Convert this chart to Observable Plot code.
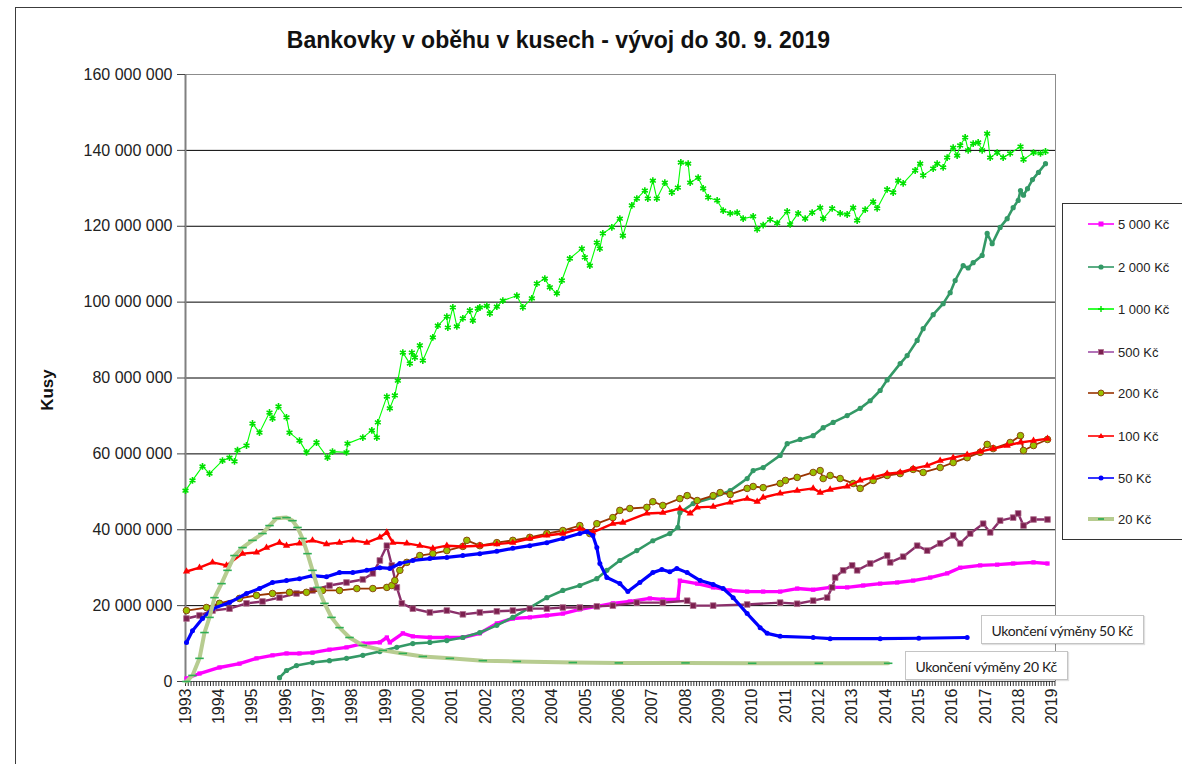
<!DOCTYPE html>
<html><head><meta charset="utf-8">
<script src="https://cdn.jsdelivr.net/npm/d3@7"></script>
<script src="https://cdn.jsdelivr.net/npm/@observablehq/plot@0.6"></script>
<style>
body{margin:0;background:#fff;width:1182px;height:764px;overflow:hidden;position:relative;font-family:"Liberation Sans",Arial,sans-serif;}
#frame{position:absolute;left:15px;top:7px;width:1300px;height:900px;border:1px solid #3c3c3c;box-sizing:border-box;}
#chart{position:absolute;left:0;top:0;}
#title{position:absolute;left:0;width:1117px;top:29px;text-align:center;font-weight:bold;font-size:23px;line-height:23px;color:#111;white-space:nowrap;}
#ylabel{position:absolute;left:-2px;top:378px;width:100px;text-align:center;font-weight:bold;font-size:17px;line-height:24px;transform:rotate(-90deg);color:#111;}
#legend{position:absolute;left:1062px;top:203px;width:160px;height:337px;border:1px solid #333;box-sizing:border-box;background:#fff;}
.entry{position:absolute;left:25px;height:16px;display:flex;align-items:center;font-size:13px;color:#222;white-space:nowrap;}
.entry svg{margin-right:4px;}
.note{position:absolute;width:163px;height:29px;line-height:29px;box-sizing:border-box;border:1px solid #c4c4c4;box-shadow:1px 1px 1px rgba(0,0,0,0.12);background:#fff;text-align:center;font-family:Lato,"Open Sans",sans-serif;font-size:14px;letter-spacing:-0.3px;color:#222;white-space:nowrap;}
</style></head>
<body>
<div id="frame"></div>
<div id="chart"></div>
<div id="title">Bankovky v oběhu v kusech - vývoj do 30. 9. 2019</div>
<div id="ylabel">Kusy</div>
<div id="legend"></div>
<div class="note" id="note50">Ukončení výměny 50 Kč</div>
<div class="note" id="note20">Ukončení výměny 20 Kč</div>
<script>
// ---- data: [decimal year, millions of pieces] ----
const s5000 = [[1993.03,0.8],[1993.42,2.1],[1994.02,3.7],[1994.62,4.7],[1995.13,6.1],[1995.61,6.9],[1996.03,7.4],[1996.42,7.4],[1996.81,7.6],[1997.32,8.4],[1997.83,9.0],[1998.32,10.0],[1998.83,10.3],[1999.04,11.6],[1999.13,10.3],[1999.52,12.7],[1999.82,11.9],[2000.33,11.6],[2000.84,11.6],[2001.32,11.6],[2001.83,12.7],[2002.34,15.3],[2002.82,16.6],[2003.33,16.9],[2003.84,17.4],[2004.32,17.9],[2004.83,19.0],[2005.34,19.8],[2005.82,20.6],[2006.33,21.1],[2006.93,21.9],[2007.32,21.6],[2007.77,21.6],[2007.83,26.6],[2008.35,25.8],[2008.83,24.8],[2009.34,24.0],[2009.85,23.7],[2010.33,23.7],[2010.84,23.7],[2011.35,24.5],[2011.83,24.2],[2012.34,24.8],[2012.85,24.8],[2013.33,25.3],[2013.84,25.8],[2014.35,26.1],[2014.83,26.6],[2015.34,27.4],[2015.85,28.5],[2016.24,30.0],[2016.84,30.6],[2017.35,30.8],[2017.83,31.1],[2018.44,31.4],[2018.86,31.1]];
const s2000 = [[1995.82,1.0],[1996.03,2.9],[1996.33,4.2],[1996.81,5.0],[1997.32,5.5],[1997.83,6.1],[1998.32,6.9],[1998.83,7.9],[1999.34,9.0],[1999.82,10.0],[2000.33,10.3],[2000.84,10.8],[2001.32,11.6],[2001.83,12.9],[2002.34,14.8],[2002.82,16.9],[2003.33,19.5],[2003.84,22.1],[2004.32,24.0],[2004.83,25.3],[2005.34,27.1],[2005.64,29.3],[2006.03,31.9],[2006.54,34.5],[2007.02,37.1],[2007.53,39.0],[2007.77,40.6],[2007.83,44.5],[2008.23,46.9],[2008.83,48.5],[2009.34,50.3],[2009.85,53.5],[2010.03,55.6],[2010.33,56.4],[2010.84,59.6],[2011.05,62.7],[2011.44,63.8],[2011.83,64.8],[2012.13,66.9],[2012.43,68.3],[2012.85,70.1],[2013.24,72.0],[2013.54,74.0],[2013.84,76.7],[2014.05,79.5],[2014.44,83.8],[2014.65,85.9],[2014.95,89.9],[2015.13,93.0],[2015.43,96.7],[2015.73,99.6],[2015.94,102.5],[2016.09,105.7],[2016.33,109.6],[2016.48,109.0],[2016.63,110.4],[2016.90,112.3],[2017.05,118.1],[2017.20,115.4],[2017.44,119.7],[2017.65,122.0],[2017.83,124.9],[2017.98,126.8],[2018.05,129.4],[2018.14,128.2],[2018.26,129.9],[2018.41,132.3],[2018.59,134.2],[2018.80,136.5]];
const s1000 = [[1993.00,50.3],[1993.21,53.0],[1993.51,56.7],[1993.72,54.8],[1994.11,58.2],[1994.32,59.0],[1994.47,58.0],[1994.56,61.0],[1994.83,62.2],[1995.01,68.0],[1995.22,65.6],[1995.52,70.9],[1995.61,69.3],[1995.79,72.5],[1996.03,69.6],[1996.12,65.6],[1996.42,63.5],[1996.63,60.4],[1996.93,63.0],[1997.26,59.0],[1997.41,60.6],[1997.83,60.4],[1997.86,62.7],[1998.32,64.3],[1998.59,66.2],[1998.74,64.3],[1998.77,68.3],[1999.04,75.1],[1999.13,72.0],[1999.28,75.4],[1999.37,79.3],[1999.52,86.7],[1999.73,83.8],[1999.79,86.7],[1999.88,85.4],[2000.03,88.6],[2000.12,84.6],[2000.42,90.7],[2000.57,93.8],[2000.84,96.2],[2000.87,93.3],[2001.02,98.6],[2001.14,93.6],[2001.32,95.7],[2001.53,97.8],[2001.62,95.1],[2001.77,98.3],[2001.83,98.6],[2002.04,99.0],[2002.13,97.0],[2002.34,98.8],[2002.52,100.4],[2002.94,101.7],[2003.12,98.6],[2003.39,101.0],[2003.54,104.9],[2003.78,106.2],[2003.93,103.9],[2004.14,102.3],[2004.29,105.7],[2004.53,111.5],[2004.89,114.1],[2004.98,111.8],[2005.13,109.6],[2005.34,115.7],[2005.43,114.1],[2005.52,118.1],[2005.79,119.7],[2006.03,122.0],[2006.12,117.5],[2006.39,125.5],[2006.54,127.3],[2006.78,129.4],[2006.87,127.3],[2007.02,132.0],[2007.14,127.3],[2007.38,131.5],[2007.59,128.9],[2007.77,130.2],[2007.86,136.8],[2008.08,136.5],[2008.14,131.5],[2008.38,132.8],[2008.53,130.0],[2008.68,127.6],[2008.95,126.8],[2009.13,124.1],[2009.34,123.4],[2009.55,123.6],[2009.73,122.0],[2010.03,122.6],[2010.15,119.2],[2010.33,120.3],[2010.54,121.8],[2010.75,120.8],[2011.05,123.9],[2011.14,120.5],[2011.38,123.4],[2011.59,122.0],[2011.80,123.6],[2012.04,124.9],[2012.13,122.0],[2012.40,124.7],[2012.64,123.4],[2012.85,123.1],[2013.03,124.9],[2013.15,121.5],[2013.39,124.4],[2013.63,126.5],[2013.75,124.7],[2014.05,129.7],[2014.23,128.9],[2014.38,132.0],[2014.53,131.3],[2014.89,134.7],[2015.04,136.5],[2015.13,133.4],[2015.43,135.2],[2015.55,136.5],[2015.73,135.5],[2015.85,138.1],[2016.03,140.7],[2016.15,138.6],[2016.24,141.3],[2016.39,143.4],[2016.48,140.0],[2016.63,141.8],[2016.78,142.1],[2016.90,140.0],[2017.05,144.4],[2017.14,138.1],[2017.35,139.4],[2017.53,138.1],[2017.74,139.2],[2018.05,141.0],[2018.14,137.6],[2018.44,139.4],[2018.65,139.2],[2018.80,139.7]];
const s500 = [[1993.03,16.6],[1993.42,17.4],[1993.81,18.7],[1994.32,19.2],[1994.83,20.6],[1995.31,21.1],[1995.82,22.1],[1996.33,23.2],[1996.81,24.0],[1997.32,25.3],[1997.83,26.1],[1998.32,26.9],[1998.62,28.5],[1998.83,31.9],[1999.04,35.8],[1999.19,30.6],[1999.34,24.8],[1999.49,20.6],[1999.82,19.2],[2000.33,18.2],[2000.84,18.7],[2001.32,17.7],[2001.83,18.2],[2002.34,18.5],[2002.82,18.7],[2003.33,19.2],[2003.84,19.2],[2004.32,19.5],[2004.83,19.5],[2005.34,19.8],[2005.82,20.0],[2006.54,20.8],[2007.32,20.8],[2008.05,21.3],[2008.23,20.0],[2008.83,20.0],[2009.85,20.3],[2010.84,20.8],[2011.35,20.5],[2011.83,21.3],[2012.25,22.1],[2012.40,24.8],[2012.49,27.4],[2012.73,29.3],[2013.00,30.6],[2013.15,29.3],[2013.54,31.1],[2014.05,33.2],[2014.14,31.4],[2014.53,32.9],[2014.95,35.8],[2015.25,34.5],[2015.64,36.4],[2016.03,38.5],[2016.24,36.4],[2016.54,39.0],[2016.93,41.6],[2017.14,39.3],[2017.44,42.4],[2017.83,43.2],[2017.98,44.3],[2018.14,41.1],[2018.44,42.7],[2018.86,42.7]];
const s200 = [[1993.03,18.7],[1993.63,19.5],[1994.02,20.6],[1994.62,21.9],[1995.13,22.7],[1995.61,23.2],[1996.12,23.5],[1996.63,23.5],[1997.11,24.0],[1997.62,24.0],[1998.14,24.5],[1998.62,24.5],[1999.04,24.8],[1999.19,25.3],[1999.28,26.6],[1999.43,29.3],[1999.64,31.4],[2000.03,33.2],[2000.42,33.7],[2000.84,34.5],[2001.32,35.6],[2001.44,37.2],[2001.83,35.8],[2002.34,36.6],[2002.82,37.2],[2003.33,38.0],[2003.84,39.0],[2004.32,39.8],[2004.83,41.1],[2005.13,39.0],[2005.34,41.6],[2005.82,43.2],[2006.03,45.1],[2006.33,45.6],[2006.84,45.9],[2007.02,47.4],[2007.32,46.4],[2007.83,48.2],[2008.05,49.0],[2008.35,47.7],[2008.83,49.0],[2009.04,49.8],[2009.34,49.3],[2009.85,50.9],[2010.03,51.4],[2010.33,51.1],[2010.84,52.2],[2011.00,53.0],[2011.35,53.8],[2011.83,55.1],[2012.04,55.6],[2012.13,53.5],[2012.34,54.3],[2012.64,53.5],[2013.03,52.2],[2013.24,50.9],[2013.63,53.0],[2014.05,54.3],[2014.44,54.8],[2014.83,55.9],[2015.13,55.1],[2015.64,56.4],[2016.03,57.7],[2016.45,59.0],[2016.84,60.4],[2017.05,62.5],[2017.23,61.4],[2017.74,63.0],[2018.05,64.8],[2018.14,60.9],[2018.44,62.2],[2018.86,63.8]];
const s100 = [[1993.03,29.0],[1993.42,30.0],[1993.81,31.4],[1994.23,30.6],[1994.71,33.7],[1995.13,34.0],[1995.43,35.3],[1995.82,36.6],[1996.03,35.8],[1996.42,36.4],[1996.81,37.2],[1997.23,36.2],[1997.62,36.6],[1998.02,37.2],[1998.44,36.6],[1998.83,38.0],[1999.04,39.3],[1999.22,36.6],[1999.64,36.4],[2000.03,35.8],[2000.42,35.1],[2000.84,35.8],[2001.32,35.6],[2001.83,35.8],[2002.34,36.2],[2002.82,36.6],[2003.33,37.7],[2003.84,38.5],[2004.32,39.0],[2004.83,40.3],[2005.22,39.3],[2005.82,41.6],[2006.12,41.9],[2006.84,44.3],[2007.32,44.5],[2007.83,45.6],[2008.14,44.3],[2008.35,45.9],[2008.83,46.1],[2009.34,47.2],[2009.85,48.2],[2010.15,47.4],[2010.33,48.5],[2010.84,49.6],[2011.35,50.3],[2011.83,50.9],[2012.04,49.8],[2012.34,50.6],[2012.85,51.4],[2013.24,53.0],[2013.63,53.8],[2014.05,54.8],[2014.44,55.1],[2014.83,56.1],[2015.25,56.9],[2015.64,58.2],[2016.03,59.0],[2016.45,59.8],[2016.84,60.6],[2017.23,61.4],[2017.65,62.2],[2018.05,63.0],[2018.44,63.5],[2018.86,64.0]];
const s50 = [[1993.03,10.3],[1993.21,13.4],[1993.51,16.6],[1993.81,19.2],[1994.32,20.8],[1994.83,23.2],[1995.22,24.5],[1995.61,26.1],[1996.03,26.6],[1996.42,27.1],[1996.81,27.9],[1997.23,27.6],[1997.62,28.7],[1998.02,28.7],[1998.44,29.3],[1998.83,30.0],[1999.13,29.8],[1999.43,31.1],[1999.82,31.9],[2000.33,32.4],[2000.84,32.7],[2001.32,33.2],[2001.83,33.7],[2002.34,34.3],[2002.82,35.1],[2003.33,35.8],[2003.84,36.6],[2004.32,37.7],[2004.83,39.0],[2005.04,39.5],[2005.22,38.5],[2005.34,35.3],[2005.43,31.1],[2005.64,27.4],[2006.03,25.8],[2006.27,23.7],[2006.63,26.1],[2007.02,28.7],[2007.29,29.5],[2007.53,28.9],[2007.74,29.8],[2008.05,28.7],[2008.44,26.6],[2008.83,25.6],[2009.13,24.5],[2009.43,22.1],[2009.85,17.9],[2010.24,14.2],[2010.45,12.7],[2010.84,11.9],[2011.83,11.6],[2012.34,11.3],[2013.84,11.3],[2015.00,11.4],[2016.45,11.6]];
const s20 = [[1993.03,0.0],[1993.21,1.6],[1993.42,6.1],[1993.57,12.9],[1993.72,16.9],[1993.87,22.1],[1994.08,25.8],[1994.26,29.3],[1994.47,33.2],[1994.71,35.3],[1995.01,37.2],[1995.31,39.0],[1995.52,41.1],[1995.73,43.0],[1996.03,43.2],[1996.21,42.4],[1996.36,40.6],[1996.51,37.7],[1996.66,33.7],[1996.81,29.3],[1996.96,24.8],[1997.17,20.6],[1997.38,16.9],[1997.62,14.2],[1997.92,11.6],[1998.32,9.5],[1998.92,8.2],[1999.52,7.4],[2000.12,6.6],[2000.93,6.1],[2001.92,5.5],[2002.94,5.3],[2004.62,5.0],[2006.0,4.9],[2008.0,4.9],[2010.0,4.8],[2012.0,4.8],[2014.08,4.8]];

const seriesNames = ["5 000 Kč","2 000 Kč","1 000 Kč","500 Kč","200 Kč","100 Kč","50 Kč","20 Kč"];
const seriesData = [s5000, s2000, s1000, s500, s200, s100, s50, s20];
const yearTicks = d3.range(1993, 2020);
const yTicks = d3.range(0, 160e6 + 1, 20e6);

// styles per series (same order as names)
const dashSymbol = { draw(ctx, size) { const w = Math.sqrt(size) * 0.75; ctx.moveTo(-w, 0); ctx.lineTo(w, 0); } };
const styles = [
  {line:"#FF00FF", w:3.4, sym:"square", r:2.4, fill:"#FF00FF", stroke:"none", lw:1.6},
  {line:"#339966", w:2.6, sym:"circle", r:2.6, fill:"#339966", stroke:"none", lw:1.6},
  {line:"#00FF00", w:1.1, sym:"asterisk", r:3.2, fill:"none", stroke:"#00E000", sw:1.6, lw:1.6},
  {line:"#8A2F6A", w:2.4, sym:"square", r:3.2, fill:"#7B1F4F", stroke:"#B0708F", sw:0.8, lw:1.6, legendLine:"#A050A8"},
  {line:"#993300", w:1.8, sym:"circle", r:3.3, fill:"#99C000", stroke:"#8A4A10", sw:1, lw:1.6},
  {line:"#FF0000", w:2.4, sym:"triangle", r:2.7, fill:"#FF0000", stroke:"none", lw:1.6},
  {line:"#0000FF", w:3.2, sym:"circle", r:2.5, fill:"#0000FF", stroke:"none", lw:1.6},
  {line:"#B7CC90", w:4, sym:dashSymbol, r:3.2, fill:"none", stroke:"#2FAE55", sw:1.6, lw:4}
];

const fmt = d => d3.format(",")(d).replace(/,/g, " ");
const marks = [
  Plot.ruleY(yTicks.filter(d => d > 0 && d < 160e6), {stroke: "#000", strokeWidth: 1}),
  Plot.ruleY([160e6], {stroke: "#8c8c8c"}),
  Plot.ruleX([2019.1], {stroke: "#8c8c8c"}),
  Plot.ruleX([1993], {stroke: "#808080", strokeWidth: 2}),
  Plot.ruleY([0], {stroke: "#555"}),
  Plot.axisY({ticks: yTicks, tickSize: 8, tickPadding: 5, tickFormat: fmt, fontSize: 16, label: null, stroke: "#444"}),
  Plot.axisX({ticks: d3.range(0, 26 * 12 + 2).map(i => 1993 + i / 12), tickSize: 5, tickFormat: () => "", label: null, stroke: "#333"}),
  Plot.axisX({ticks: yearTicks, tickSize: 0, tickPadding: 7, tickRotate: -90, tickFormat: d3.format("d"), fontSize: 16, label: null})
];
seriesData.forEach((arr, i) => {
  const st = styles[i];
  const rows = arr.map(([t, v]) => ({t, v: v * 1e6}));
  marks.push(Plot.line(rows, {x: "t", y: "v", stroke: st.line, strokeWidth: st.w, curve: "linear", strokeLinejoin: "round"}));
  marks.push(Plot.dot(rows, {x: "t", y: "v", symbol: st.sym, r: st.r, fill: st.fill, stroke: st.stroke, strokeWidth: st.sw || 1}));
});

const plot = Plot.plot({
  width: 1182, height: 764,
  marginLeft: 185, marginRight: 127, marginTop: 74, marginBottom: 83,
  x: {domain: [1993, 2019.1], axis: null},
  y: {domain: [0, 160e6], axis: null},
  style: {fontFamily: '"Liberation Sans", Arial, sans-serif', fontSize: "16px", color: "#222", background: "transparent", overflow: "visible"},
  marks
});
document.getElementById("chart").appendChild(plot);

// legend
const legend = document.getElementById("legend");
const legendCenters = [20, 63, 105, 148, 189, 232, 274, 315];
seriesNames.forEach((name, i) => {
  const st = styles[i];
  const e = document.createElement("div");
  e.className = "entry";
  e.style.top = (legendCenters[i] - 8) + "px";
  let marker = "";
  if (st.sym === "square") marker = `<rect x="10.5" y="5.5" width="5" height="5" fill="${st.fill}" stroke="${st.stroke}" stroke-width="0.8"/>`;
  else if (st.sym === "circle") marker = `<circle cx="13" cy="8" r="${Math.min(st.r,3)}" fill="${st.fill}" stroke="${st.stroke}"/>`;
  else if (st.sym === "triangle") marker = `<path d="M13,5 L16,10 L10,10 Z" fill="${st.fill}"/>`;
  else if (st.sym === "asterisk") marker = `<path d="M10,8 H16 M13,5 V11" stroke="${st.stroke}" stroke-width="1.4"/>`;
  else marker = `<path d="M10,8 H16" stroke="${st.stroke}" stroke-width="1.8"/>`;
  e.innerHTML = `<svg width="26" height="16"><line x1="0" y1="8" x2="26" y2="8" stroke="${st.legendLine || st.line}" stroke-width="${st.lw}"/>${marker}</svg><span>${name}</span>`;
  legend.appendChild(e);
});

// annotations anchored to the last points of the 50 Kč and 20 Kč series
const xs = plot.scale("x"), ys = plot.scale("y");
const last50 = s50[s50.length - 1], last20 = s20[s20.length - 1];
const n50 = document.getElementById("note50"), n20 = document.getElementById("note20");
n50.style.left = (xs.apply(last50[0]) + 14) + "px";
n50.style.top = (ys.apply(last50[1] * 1e6) - 22) + "px";
n20.style.left = (xs.apply(last20[0]) + 17) + "px";
n20.style.top = (ys.apply(last20[1] * 1e6) - 12) + "px";
</script>
</body></html>
